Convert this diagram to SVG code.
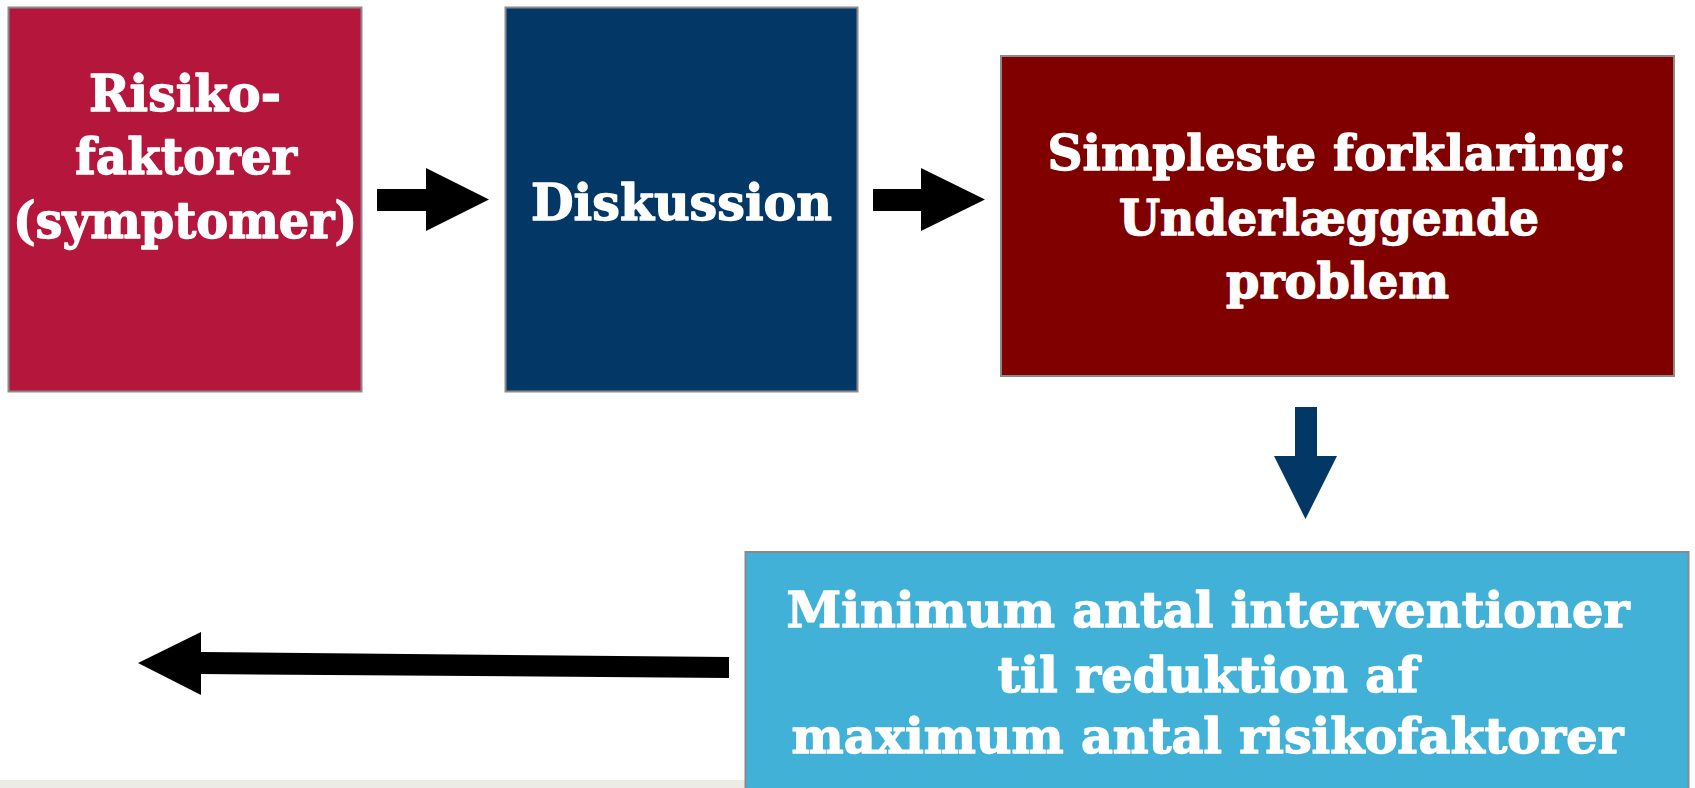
<svg xmlns="http://www.w3.org/2000/svg" width="1695" height="788" viewBox="0 0 1695 788">
  <style>
    .box { stroke: #8a8a8a; stroke-width: 2; }
    .lbl { font-family: "DejaVu Serif", "Liberation Serif", serif; font-weight: bold; fill: #ffffff; stroke: #ffffff; stroke-width: 1.4; stroke-linejoin: round; text-anchor: middle; }
    .arrow-black { fill: #000000; }
    .arrow-blue { fill: #033866; }
  </style>
  <rect x="0" y="0" width="1695" height="788" fill="#ffffff"/>
  <!-- light footer band -->
  <rect x="0" y="780" width="746" height="8" fill="#ecebe6"/>

  <g id="risikofaktorer">
    <rect class="box" x="8.5" y="7.5" width="353" height="384" fill="#b5163b"/>
    <text class="lbl" font-size="51" x="185" y="111" textLength="192" lengthAdjust="spacingAndGlyphs">Risiko-</text>
    <text class="lbl" font-size="51" x="186" y="174" textLength="222" lengthAdjust="spacingAndGlyphs">faktorer</text>
    <text class="lbl" font-size="51" x="185" y="238" textLength="344" lengthAdjust="spacingAndGlyphs">(symptomer)</text>
  </g>

  <g id="diskussion">
    <rect class="box" x="505.5" y="7.5" width="352" height="384" fill="#033866"/>
    <text class="lbl" font-size="51" x="681.5" y="220" textLength="301" lengthAdjust="spacingAndGlyphs">Diskussion</text>
  </g>

  <g id="forklaring">
    <rect class="box" x="1001" y="56" width="673" height="320" fill="#800000"/>
    <text class="lbl" font-size="48" x="1337" y="170" textLength="579" lengthAdjust="spacingAndGlyphs">Simpleste forklaring:</text>
    <text class="lbl" font-size="48" x="1329" y="235" textLength="420" lengthAdjust="spacingAndGlyphs">Underlæggende</text>
    <text class="lbl" font-size="48" x="1337.5" y="298" textLength="223" lengthAdjust="spacingAndGlyphs">problem</text>
  </g>

  <g id="interventioner">
    <rect class="box" x="745.5" y="552" width="943" height="240" fill="#41b1d8"/>
    <text class="lbl" font-size="49" x="1208" y="627" textLength="843" lengthAdjust="spacingAndGlyphs">Minimum antal interventioner</text>
    <text class="lbl" font-size="49" x="1208" y="692" textLength="421" lengthAdjust="spacingAndGlyphs">til reduktion af</text>
    <text class="lbl" font-size="49" x="1207.5" y="753" textLength="832" lengthAdjust="spacingAndGlyphs">maximum antal risikofaktorer</text>
  </g>

  <g id="connectors">
    <!-- block arrow: risikofaktorer to diskussion -->
    <polygon class="arrow-black" points="377,189 426,189 426,168 489,199.5 426,231 426,211 377,211"/>
    <!-- block arrow: diskussion to forklaring -->
    <polygon class="arrow-black" points="873,189 921,189 921,168 985,199.5 921,231 921,211 873,211"/>
    <!-- down arrow: forklaring to interventioner -->
    <polygon class="arrow-blue" points="1295,407 1317,407 1317,456 1337,456 1305.5,519 1274,456 1295,456"/>
    <!-- long arrow pointing left -->
    <polygon class="arrow-black" points="729,657 729,678 201,674 201,695 138,663 201,632 201,652"/>
  </g>
</svg>
